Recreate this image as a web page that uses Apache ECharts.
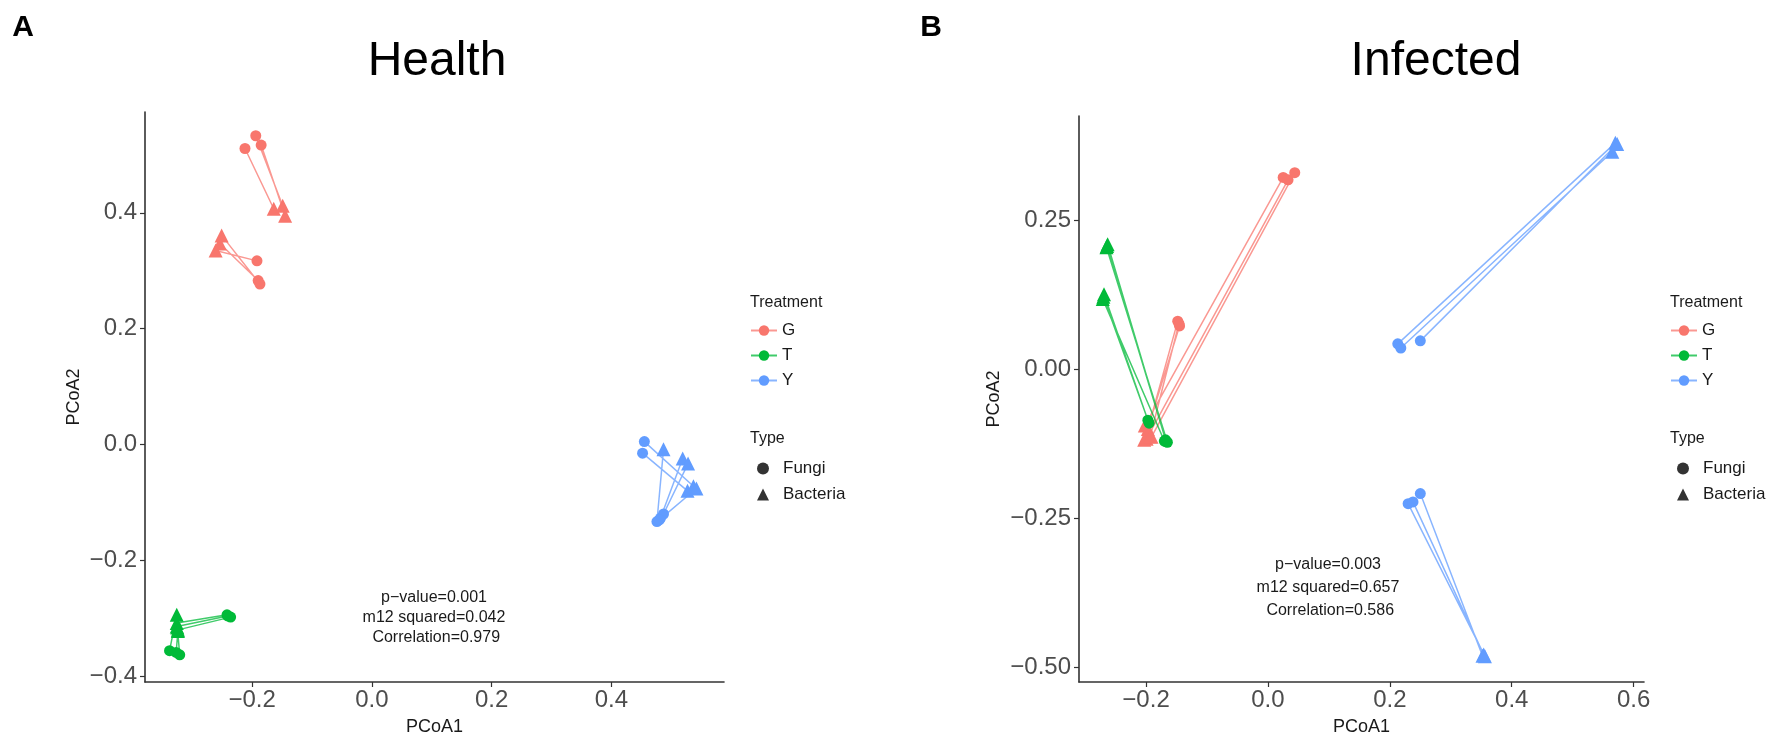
<!DOCTYPE html>
<html>
<head>
<meta charset="utf-8">
<title>Procrustes PCoA</title>
<script src="https://cdn.jsdelivr.net/npm/echarts@6.0.0/dist/echarts.min.js"></script>
<style>
html,body{margin:0;padding:0;background:#fff}
#chart{width:1772px;height:741px}
</style>
</head>
<body>
<div id="chart"></div>
<script>
var treatments = ['G', 'T', 'Y'];
var types = ['Fungi', 'Bacteria'];
var colors = { G: '#F8766D', T: '#00BA38', Y: '#619CFF' };

// Health: each fungi point is paired with the bacteria point of the same index
var healthFungiG = [[-0.212, 0.511], [-0.194, 0.533], [-0.185, 0.517], [-0.192, 0.317], [-0.190, 0.283], [-0.187, 0.277]];
var healthBacteriaG = [[-0.164, 0.407], [-0.149, 0.412], [-0.145, 0.395], [-0.261, 0.335], [-0.254, 0.347], [-0.251, 0.361]];
var healthFungiT = [[-0.242, -0.294], [-0.241, -0.296], [-0.236, -0.298], [-0.338, -0.356], [-0.321, -0.363], [-0.327, -0.359]];
var healthBacteriaT = [[-0.326, -0.308], [-0.326, -0.314], [-0.324, -0.320], [-0.326, -0.294], [-0.325, -0.316], [-0.324, -0.322]];
var healthFungiY = [[0.455, 0.005], [0.452, -0.015], [0.476, -0.133], [0.482, -0.127], [0.487, -0.120], [0.480, -0.130]];
var healthBacteriaY = [[0.537, -0.072], [0.527, -0.080], [0.487, -0.008], [0.519, -0.024], [0.528, -0.033], [0.542, -0.076]];

// Infected
var infectedFungiG = [[0.025, 0.322], [0.033, 0.318], [0.044, 0.330], [-0.148, 0.081], [-0.145, 0.073], [-0.146, 0.077]];
var infectedBacteriaG = [[-0.202, -0.094], [-0.199, -0.116], [-0.191, -0.113], [-0.197, -0.100], [-0.203, -0.118], [-0.193, -0.112]];
var infectedFungiT = [[-0.168, -0.118], [-0.165, -0.122], [-0.197, -0.085], [-0.170, -0.120], [-0.195, -0.090], [-0.167, -0.121]];
var infectedBacteriaT = [[-0.263, 0.210], [-0.265, 0.205], [-0.269, 0.126], [-0.271, 0.118], [-0.270, 0.122], [-0.264, 0.207]];
var infectedFungiY = [[0.213, 0.043], [0.218, 0.036], [0.250, 0.048], [0.250, -0.208], [0.230, -0.225], [0.238, -0.222]];
var infectedBacteriaY = [[0.570, 0.380], [0.565, 0.365], [0.573, 0.378], [0.352, -0.480], [0.356, -0.481], [0.354, -0.478]];

var healthStats = ['p\u2212value=0.001', 'm12 squared=0.042', ' Correlation=0.979'];
var infectedStats = ['p\u2212value=0.003', 'm12 squared=0.657', ' Correlation=0.586'];

var healthXTicks = [-0.2, 0, 0.2, 0.4];
var healthYTicks = [-0.4, -0.2, 0, 0.2, 0.4];
var infectedXTicks = [-0.2, 0, 0.2, 0.4, 0.6];
var infectedYTicks = [-0.5, -0.25, 0, 0.25];

var font = 'Liberation Sans, Arial, Helvetica, sans-serif';

function fmt(d) {
	return function (v) {
		var s = Math.abs(v).toFixed(d);
		return v < -1e-9 ? '\u2212' + s : s;
	};
}

function pairSeries(name, fungi, bacteria, idx) {
	var data = [];
	for (var i = 0; i < fungi.length; i++) {
		data.push({ value: fungi[i], symbol: 'circle', symbolSize: 11 });
		data.push({ value: bacteria[i], symbol: 'triangle', symbolSize: 14 });
		data.push(['-', '-']);
	}
	return {
		name: name,
		type: 'line',
		xAxisIndex: idx,
		yAxisIndex: idx,
		data: data,
		symbol: 'circle',
		symbolSize: 11,
		connectNulls: false,
		color: colors[name],
		lineStyle: { width: 1.5, opacity: 0.75 },
		itemStyle: { opacity: 1 },
		emphasis: { disabled: true },
		z: 2
	};
}

function xAxisOf(idx, min, max, ticks, d) {
	return {
		type: 'value', gridIndex: idx, min: min, max: max,
		name: 'PCoA1', nameLocation: 'middle', nameGap: 36,
		nameTextStyle: { fontFamily: font, fontSize: 18, color: '#1a1a1a' },
		splitLine: { show: false },
		axisLine: { onZero: false, lineStyle: { color: '#333', width: 1.6 } },
		axisTick: { customValues: ticks, length: 5, lineStyle: { color: '#333', width: 1.2 } },
		axisLabel: { customValues: ticks, formatter: fmt(d), fontFamily: font, fontSize: 24, color: '#4D4D4D', margin: 6 }
	};
}

function yAxisOf(idx, min, max, ticks, d, gap) {
	return {
		type: 'value', gridIndex: idx, min: min, max: max,
		name: 'PCoA2', nameLocation: 'middle', nameGap: gap, nameRotate: 90,
		nameTextStyle: { fontFamily: font, fontSize: 18, color: '#1a1a1a' },
		splitLine: { show: false },
		axisLine: { onZero: false, lineStyle: { color: '#333', width: 1.6 } },
		axisTick: { customValues: ticks, length: 5, lineStyle: { color: '#333', width: 1.2 } },
		axisLabel: { customValues: ticks, formatter: fmt(d), fontFamily: font, fontSize: 24, color: '#4D4D4D', margin: 8 }
	};
}

function legendsAt(x) {
	var base = {
		orient: 'vertical', left: x, padding: 0, itemWidth: 26, itemHeight: 13, itemGap: 8,
		selectedMode: false,
		textStyle: { fontFamily: font, fontSize: 17, color: '#1a1a1a' }
	};
	return [
		Object.assign({}, base, { data: treatments, top: 322 }),
		Object.assign({}, base, {
			data: types, top: 460, left: x + 7, itemWidth: 12, itemHeight: 12, itemGap: 9,
			textStyle: { fontFamily: font, fontSize: 17, color: '#1a1a1a', padding: [0, 0, 0, 9] }
		})
	];
}

function label(text, x, y, size, weight) {
	return {
		type: 'text', x: x, y: y,
		style: { text: text, fontFamily: font, fontSize: size, fontWeight: weight || 'normal', fill: '#000', textAlign: 'center', textVerticalAlign: 'middle' }
	};
}

function leftLabel(text, x, y) {
	return {
		type: 'text', x: x, y: y,
		style: { text: text, fontFamily: font, fontSize: 16, fill: '#1a1a1a', textAlign: 'left', textVerticalAlign: 'middle' }
	};
}

function statsText(lines, x, y, lh) {
	return {
		type: 'text', x: x, y: y,
		style: { text: lines.join('\n'), fontFamily: font, fontSize: 16, lineHeight: lh, fill: '#1a1a1a', textAlign: 'center', textVerticalAlign: 'middle' }
	};
}

var chart = echarts.init(document.getElementById('chart'));

var option = {
	animation: false,
	backgroundColor: '#fff',
	grid: [
		{ left: 145, top: 112, width: 579, height: 577 },
		{ left: 1079, top: 116, width: 565, height: 568 }
	],
	xAxis: [
		xAxisOf(0, -0.379, 0.588, healthXTicks, 1),
		xAxisOf(1, -0.310, 0.617, infectedXTicks, 1)
	],
	yAxis: [
		yAxisOf(0, -0.410, 0.574, healthYTicks, 1, 62),
		yAxisOf(1, -0.524, 0.425, infectedYTicks, 2, 76)
	],
	legend: legendsAt(750).concat(legendsAt(1670)),
	graphic: [
		label('A', 23, 28, 30, 'bold'),
		label('Health', 437, 62, 48),
		label('B', 931, 28, 30, 'bold'),
		label('Infected', 1436, 62, 48),
		leftLabel('Treatment', 750, 303),
		leftLabel('Type', 750, 439),
		leftLabel('Treatment', 1670, 303),
		leftLabel('Type', 1670, 439),
		statsText(healthStats, 434, 618, 20),
		statsText(infectedStats, 1328, 588, 23)
	],
	series: [
		pairSeries('G', healthFungiG, healthBacteriaG, 0),
		pairSeries('T', healthFungiT, healthBacteriaT, 0),
		pairSeries('Y', healthFungiY, healthBacteriaY, 0),
		pairSeries('G', infectedFungiG, infectedBacteriaG, 1),
		pairSeries('T', infectedFungiT, infectedBacteriaT, 1),
		pairSeries('Y', infectedFungiY, infectedBacteriaY, 1),
		{ name: 'Fungi', type: 'scatter', data: [], symbol: 'circle', itemStyle: { color: '#000' } },
		{ name: 'Bacteria', type: 'scatter', data: [], symbol: 'triangle', itemStyle: { color: '#000' } }
	]
};

chart.setOption(option);
</script>
</body>
</html>
